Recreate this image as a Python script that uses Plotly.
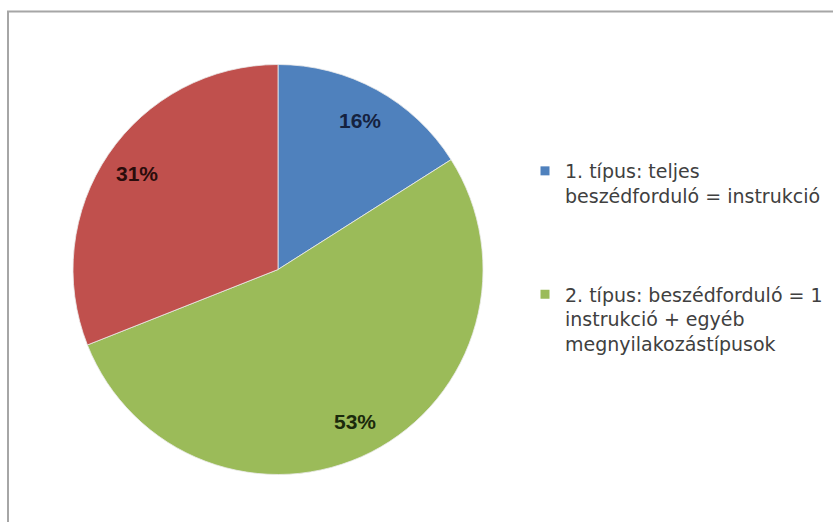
import math
import plotly.graph_objects as go

# ---- data ----
labels = [
    "1. típus: teljes<br>beszédforduló = instrukció",
    "2. típus: beszédforduló = 1<br>instrukció + egyéb<br>megnyilakozástípusok",
    "3. típus",
]
values = [16, 53, 31]
colors = ["#4F81BD", "#9BBB59", "#C0504D"]
label_colors = ["#15223f", "#1b2a0c", "#2a0c0b"]
legend_shown = [True, True, False]

W, H = 833, 522
cx, cy, R = 278, 269.5, 205  # pie centre / radius in px

fig = go.Figure()
fig.add_trace(go.Pie(
    labels=labels, values=values, sort=False, direction="clockwise",
    marker=dict(colors=colors, line=dict(color="rgba(235,235,235,0.8)", width=1)),
    textinfo="none", showlegend=False, hoverinfo="label+percent",
    domain=dict(x=[(cx - R) / W, (cx + R) / W], y=[1 - (cy + R) / H, 1 - (cy - R) / H]),
))

# legend entries (only the first two are visible in the original)
for i, (lab, col, show) in enumerate(zip(labels, colors, legend_shown)):
    if not show:
        continue
    fig.add_trace(go.Scatter(
        x=[None], y=[None], mode="markers", name=lab, legendgroup=f"g{i}",
        marker=dict(symbol="square", size=9, color=col),
        showlegend=True,
    ))

# percentage labels at ~0.83 R along each slice's mid angle
total = sum(values)
start = 0.0
for v, tc in zip(values, label_colors):
    frac = v / total
    mid = (start + frac / 2) * 2 * math.pi
    start += frac
    px = cx + 0.83 * R * math.sin(mid)
    py = cy - 0.83 * R * math.cos(mid)
    fig.add_annotation(
        x=px / W, y=1 - py / H, xref="paper", yref="paper",
        xanchor="center", yanchor="middle",
        text=f"<b>{frac:.0%}</b>", showarrow=False,
        font=dict(family="Liberation Sans, Arial, sans-serif", size=21, color=tc),
    )

# chart border
fig.add_shape(type="rect", xref="paper", yref="paper",
              x0=8 / W, y0=-0.05, x1=1.05, y1=1 - 11.5 / H,
              line=dict(color="#a6a6a6", width=2))

fig.update_layout(
    width=W, height=H,
    margin=dict(l=0, r=0, t=0, b=0),
    paper_bgcolor="white", plot_bgcolor="white",
    xaxis=dict(visible=False), yaxis=dict(visible=False),
    legend=dict(
        x=(545 - 20) / W, y=1 - 152 / H, xanchor="left", yanchor="top",
        valign="top", tracegroupgap=71,
        font=dict(family="DejaVu Sans, Verdana, sans-serif", size=19, color="#404040"),
        bgcolor="rgba(0,0,0,0)",
    ),
)

fig.write_html("out.html", config={"displayModeBar": False},
               post_script="document.body.style.margin='0px';")
